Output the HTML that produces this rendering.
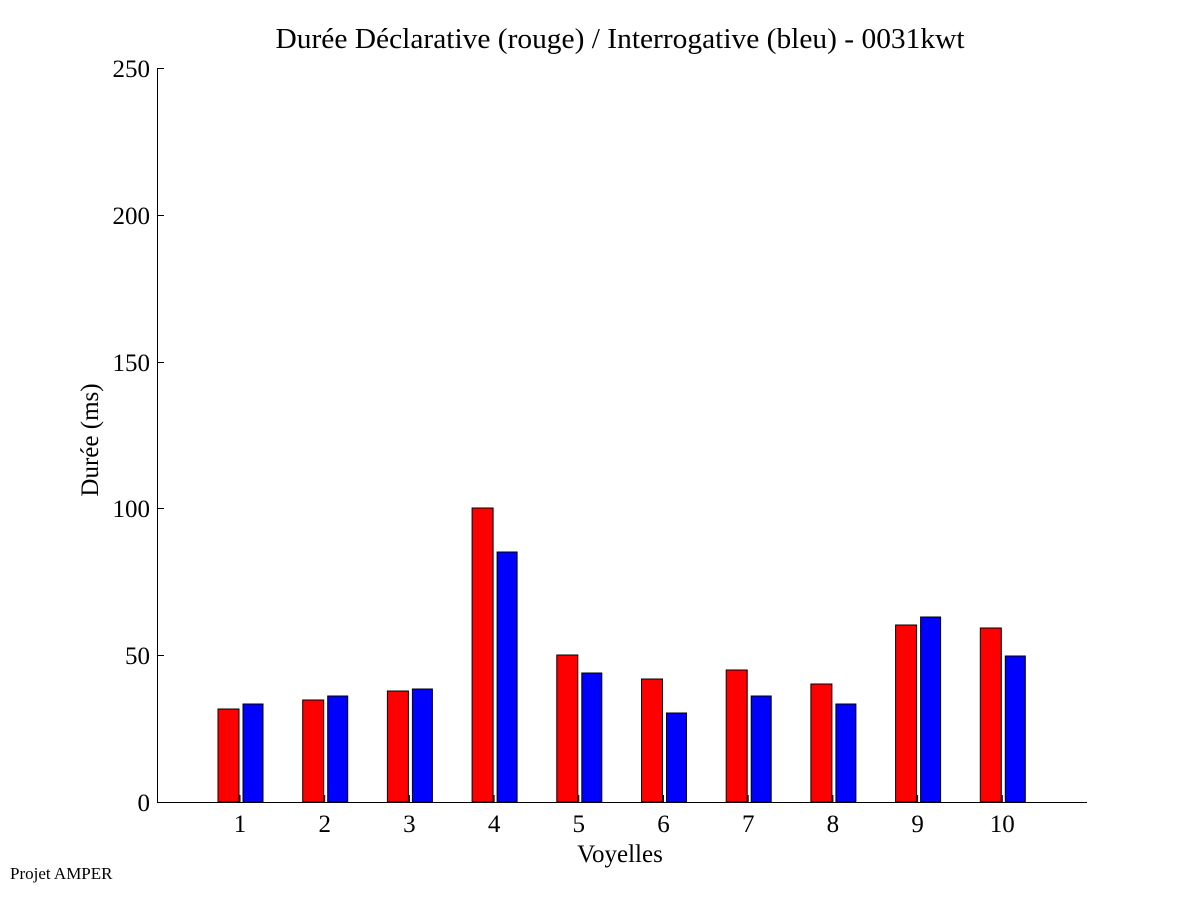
<!DOCTYPE html>
<html><head><style>body{margin:0;background:#fff}</style></head><body>
<svg width="1201" height="901" xmlns="http://www.w3.org/2000/svg" font-family="Liberation Serif, serif">
<rect width="1201" height="901" fill="#fff"/>
<text x="620" y="48" font-size="29" text-anchor="middle" textLength="689" lengthAdjust="spacingAndGlyphs">Durée Déclarative (rouge) / Interrogative (bleu) - 0031kwt</text>
<g stroke="#000" stroke-width="1">
<line x1="157.5" y1="68" x2="157.5" y2="802"/>
<line x1="157" y1="802.5" x2="1087" y2="802.5"/>
<line x1="157" y1="68.5" x2="164" y2="68.5"/>
<line x1="157" y1="215.5" x2="164" y2="215.5"/>
<line x1="157" y1="362.5" x2="164" y2="362.5"/>
<line x1="157" y1="508.5" x2="164" y2="508.5"/>
<line x1="157" y1="655.5" x2="164" y2="655.5"/>
</g>
<g font-size="25" text-anchor="end">
<text x="150" y="77">250</text><text x="150" y="224">200</text><text x="150" y="371">150</text>
<text x="150" y="517">100</text><text x="150" y="664">50</text><text x="150" y="811">0</text>
</g>
<text transform="translate(98,440) rotate(-90)" font-size="25" text-anchor="middle">Durée (ms)</text>
<text x="620" y="862" font-size="25" text-anchor="middle">Voyelles</text>
<text x="10" y="879" font-size="17">Projet AMPER</text>
<g id="bars" stroke="#000" stroke-width="1"></g>
<g id="lab" font-size="25" text-anchor="middle"></g>
</svg>
<script>
var r=[709,700,691,508,655,679,670,684,625,628],b=[704,696,689,552,673,713,696,704,617,656];
var g=document.getElementById('bars'),l=document.getElementById('lab'),s='',t='';
for(var i=0;i<10;i++){var c=240+i*84.7;
s+='<rect x="'+(c-22)+'" y="'+r[i]+'" width="21" height="'+(802-r[i])+'" fill="#f00"/>';
s+='<rect x="'+(c+3)+'" y="'+b[i]+'" width="20" height="'+(802-b[i])+'" fill="#00f"/>';
s+='<line x1="'+c+'" y1="795" x2="'+c+'" y2="802"/>';
t+='<text x="'+c+'" y="832">'+(i+1)+'</text>';}
g.innerHTML=s;l.innerHTML=t;
</script>
</body></html>
